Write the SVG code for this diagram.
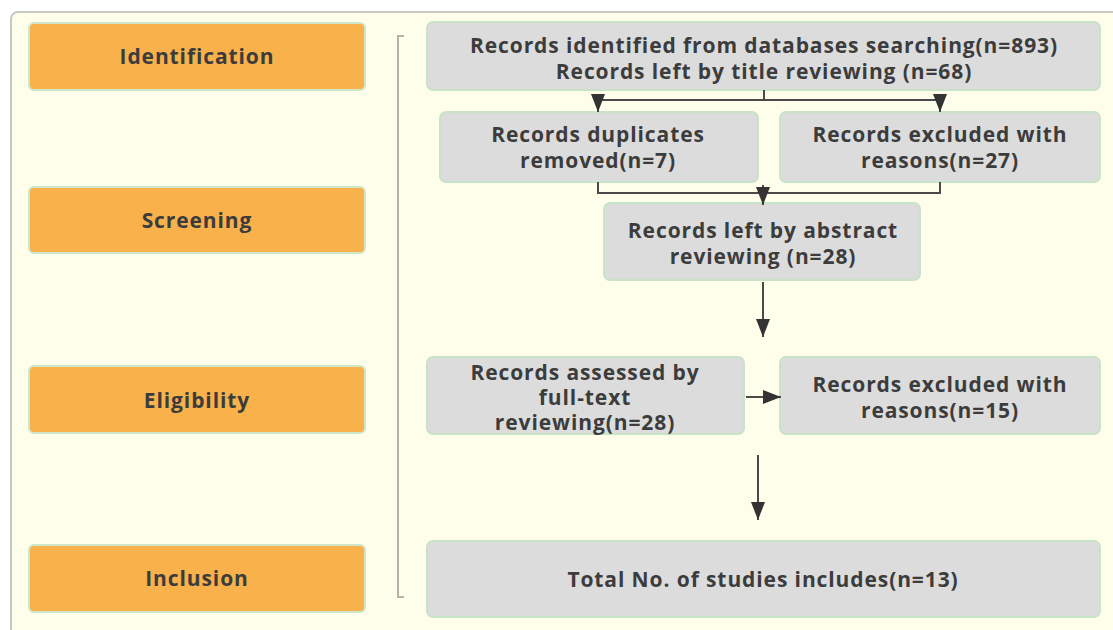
<svg xmlns="http://www.w3.org/2000/svg" width="1113" height="630" viewBox="0 0 1113 630">
<defs>
<style>
.stage rect{fill:#f9b14b;stroke:#cfe6c8;stroke-width:2}
.box rect{fill:#dcdcdc;stroke:#c8e4c8;stroke-width:2}
text{font-family:"Open Sans","DejaVu Sans",sans-serif;font-weight:bold;font-size:21px;letter-spacing:0.9px;fill:#3c3c3c;text-anchor:middle}
.conn path{fill:none;stroke:#4a4a4a;stroke-width:2}
</style>
<marker id="ah" viewBox="0 0 18 14" refX="18" refY="7" markerWidth="9" markerHeight="7" markerUnits="strokeWidth" orient="auto">
<path d="M0,0 L18,7 L0,14 z" fill="#333"/>
</marker>
</defs>
<rect x="0" y="0" width="1113" height="630" fill="#ffffff"/>
<rect x="11" y="12" width="1130" height="640" rx="7" fill="#fefeea" stroke="#c9c9c4" stroke-width="2"/>
<path d="M404,36 H398 V597 H404" fill="none" stroke="#b4b4ac" stroke-width="2"/>

<g id="stage-identification" class="stage"><rect x="29" y="23" width="336" height="67" rx="5"/><text x="197" y="64">Identification</text></g>
<g id="stage-screening" class="stage"><rect x="29" y="187" width="336" height="66" rx="5"/><text x="197" y="228">Screening</text></g>
<g id="stage-eligibility" class="stage"><rect x="29" y="366" width="336" height="67" rx="5"/><text x="197" y="408">Eligibility</text></g>
<g id="stage-inclusion" class="stage"><rect x="29" y="545" width="336" height="67" rx="5"/><text x="197" y="586">Inclusion</text></g>

<g id="n-identified" class="box"><rect x="427" y="22" width="673" height="68" rx="6"/><text x="764" y="53">Records identified from databases searching(n=893)</text><text x="764" y="79">Records left by title reviewing (n=68)</text></g>
<g id="n-duplicates" class="box"><rect x="440" y="112" width="318" height="70" rx="6"/><text x="598" y="142">Records duplicates</text><text x="598" y="168">removed(n=7)</text></g>
<g id="n-excluded1" class="box"><rect x="780" y="112" width="320" height="70" rx="6"/><text x="940" y="142">Records excluded with</text><text x="940" y="168">reasons(n=27)</text></g>
<g id="n-abstract" class="box"><rect x="604" y="203" width="316" height="77" rx="6"/><text x="763" y="238">Records left by abstract</text><text x="763" y="264">reviewing (n=28)</text></g>
<g id="n-fulltext" class="box"><rect x="427" y="357" width="317" height="77" rx="6"/><text x="585" y="380">Records assessed by</text><text x="585" y="405">full-text</text><text x="585" y="430">reviewing(n=28)</text></g>
<g id="n-excluded2" class="box"><rect x="780" y="357" width="320" height="77" rx="6"/><text x="940" y="392">Records excluded with</text><text x="940" y="418">reasons(n=15)</text></g>
<g id="n-total" class="box"><rect x="427" y="541" width="673" height="76" rx="6"/><text x="763" y="587">Total No. of studies includes(n=13)</text></g>

<g id="connectors" class="conn">
<path d="M764,90 V100"/>
<path d="M764,100 H598 V112" marker-end="url(#ah)"/>
<path d="M764,100 H940 V112" marker-end="url(#ah)"/>
<path d="M598,182 V193 H940 V182"/>
<path d="M763,185 V205" marker-end="url(#ah)"/>
<path d="M763,282 V337" marker-end="url(#ah)"/>
<path d="M746,397 H781" marker-end="url(#ah)"/>
<path d="M758,455 V520" marker-end="url(#ah)"/>
</g>
</svg>
